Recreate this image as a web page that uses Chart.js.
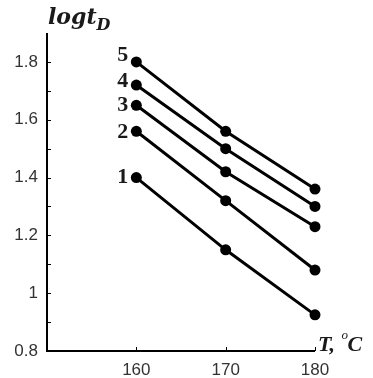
<!DOCTYPE html>
<html>
<head>
<meta charset="utf-8">
<script src="https://cdn.jsdelivr.net/npm/chart.js@4"></script>
<style>
  html, body { margin: 0; padding: 0; background: #fff; }
  #wrap { width: 373px; height: 378px; position: relative; }
</style>
</head>
<body>
<div id="wrap"><canvas id="chart"></canvas></div>
<script>
const temps = [160, 170, 180];
const curveNames = ['1', '2', '3', '4', '5'];
const curve1 = [1.40, 1.15, 0.925];
const curve2 = [1.56, 1.32, 1.08];
const curve3 = [1.65, 1.42, 1.23];
const curve4 = [1.72, 1.50, 1.30];
const curve5 = [1.80, 1.56, 1.36];
const yTickLabels = ['0.8', '1', '1.2', '1.4', '1.6', '1.8'];
const xTickLabels = ['160', '170', '180'];

const allCurves = [curve1, curve2, curve3, curve4, curve5];
// small vertical nudges for the curve numbers, as placed in the original
const labelNudge = [0, 1, 0, -4, -7];

const datasets = allCurves.map((vals, i) => ({
  label: curveNames[i],
  data: vals.map((v, j) => ({ x: temps[j], y: v })),
  borderColor: '#000',
  backgroundColor: '#000',
  borderWidth: 3,
  pointRadius: 5.5,
  pointBorderWidth: 0,
  tension: 0,
  clip: false
}));

// inward ticks, axis titles, curve numbers
const decorPlugin = {
  id: 'decor',
  afterDraw(chart) {
    const c = chart.ctx;
    const xs = chart.scales.x, ys = chart.scales.y;
    const area = chart.chartArea;
    c.save();
    c.strokeStyle = '#000';
    c.lineWidth = 1;
    // y ticks every 0.1
    for (let v = 0.9; v <= 1.85; v += 0.1) {
      const py = Math.round(ys.getPixelForValue(v)) + 0.5;
      c.beginPath();
      c.moveTo(area.left, py);
      c.lineTo(area.left + 4, py);
      c.stroke();
    }
    temps.forEach(t => {
      const px = Math.round(xs.getPixelForValue(t)) + 0.5;
      c.beginPath();
      c.moveTo(px, area.bottom);
      c.lineTo(px, area.bottom - 4);
      c.stroke();
    });
    // axis lines
    c.lineWidth = 2;
    c.beginPath();
    c.moveTo(area.left, area.top);
    c.lineTo(area.left, area.bottom);
    c.lineTo(area.right, area.bottom);
    c.stroke();

    c.fillStyle = '#1a1a1a';
    // y title
    c.font = 'bold italic 22px "DejaVu Serif", serif';
    c.textAlign = 'left';
    c.textBaseline = 'alphabetic';
    c.fillText('logt', area.left + 1, 24);
    const w = c.measureText('logt').width;
    c.font = 'bold italic 16px "DejaVu Serif", serif';
    c.fillText('D', area.left + 1 + w, 30);
    // x title
    c.font = 'bold italic 22px "Liberation Serif", serif';
    c.fillText('T, ', area.right + 3, area.bottom);
    const w2 = c.measureText('T, ').width;
    c.font = 'italic 13px "Liberation Serif", serif';
    c.fillText('o', area.right + 4 + w2, area.bottom - 12);
    c.font = 'bold italic 22px "Liberation Serif", serif';
    c.fillText('C', area.right + 4 + w2 + 6, area.bottom);

    // curve numbers
    c.font = 'bold 22px "Liberation Serif", "DejaVu Serif", serif';
    c.textAlign = 'right';
    c.textBaseline = 'middle';
    chart.data.datasets.forEach((ds, i) => {
      const p = chart.getDatasetMeta(i).data[0];
      c.fillText(curveNames[i], p.x - 8, p.y + labelNudge[i]);
    });
    c.restore();
  }
};

new Chart(document.getElementById('chart'), {
  type: 'line',
  data: { datasets },
  options: {
    responsive: true,
    maintainAspectRatio: false,
    animation: false,
    layout: { padding: { top: 33, right: 58, left: 0, bottom: 0 } },
    plugins: { legend: { display: false }, tooltip: { enabled: false } },
    scales: {
      x: {
        type: 'linear',
        min: 150,
        max: 180,
        afterFit(s) { s.height = 27; },
        afterBuildTicks(s) { s.ticks = temps.map(v => ({ value: v })); },
        grid: { display: false, drawTicks: false },
        border: { display: false },
        ticks: {
          padding: 9,
          color: '#333',
          font: { family: '"Liberation Sans", Arial, sans-serif', size: 17 },
          callback: (v) => xTickLabels[temps.indexOf(v)] || ''
        }
      },
      y: {
        type: 'linear',
        min: 0.8,
        max: 1.9,
        afterFit(s) { s.width = 47; },
        afterBuildTicks(s) { s.ticks = yTickLabels.map(t => ({ value: parseFloat(t) })); },
        grid: { display: false, drawTicks: false },
        border: { display: false },
        ticks: {
          padding: 9,
          color: '#333',
          font: { family: '"Liberation Sans", Arial, sans-serif', size: 17 },
          callback: (v) => {
            const idx = yTickLabels.findIndex(t => Math.abs(parseFloat(t) - v) < 1e-6);
            return idx >= 0 ? yTickLabels[idx] : '';
          }
        }
      }
    }
  },
  plugins: [decorPlugin]
});
</script>
</body>
</html>
